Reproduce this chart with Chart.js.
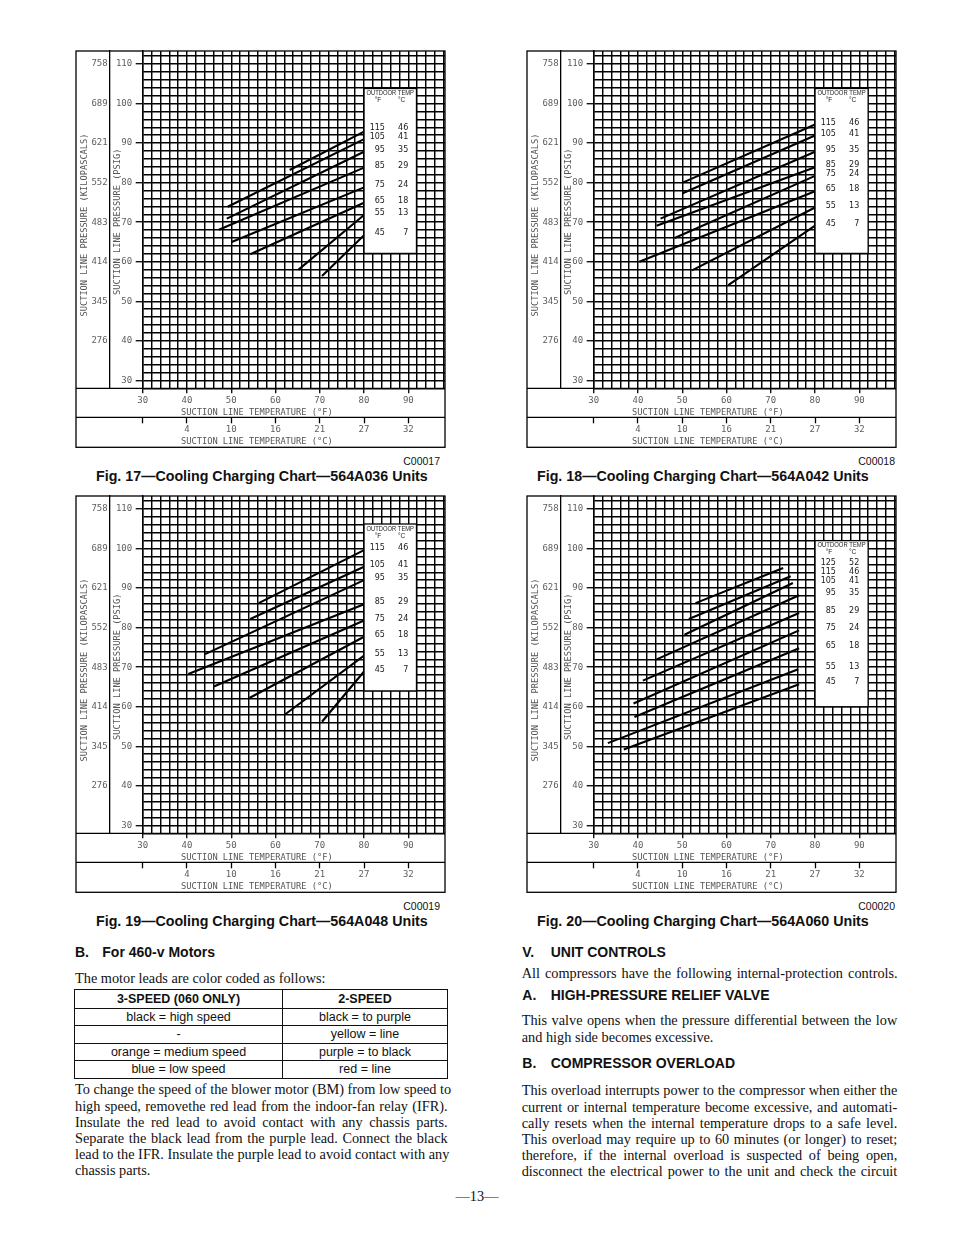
<!DOCTYPE html>
<html><head><meta charset="utf-8">
<script src="https://cdn.jsdelivr.net/npm/chart.js@4.4.0/dist/chart.umd.min.js"></script>
<style>
html,body{margin:0;padding:0;background:#fff}
body{width:954px;height:1235px;position:relative;overflow:hidden;color:#111;font-family:"Liberation Sans",Arial,sans-serif}
canvas.cv{position:absolute}
.t{position:absolute;white-space:nowrap;line-height:1}
.b{font-weight:bold}
.sans{font-family:"Liberation Sans",Arial,sans-serif}
.serif{font-family:"Liberation Serif","Times New Roman",serif;font-size:14.3px}
.just{position:absolute;white-space:nowrap;line-height:1;text-align:justify;text-align-last:justify}
.hl{position:absolute;background:#111}
.cap{font-size:14.25px}
</style>
</head>
<body>
<canvas id="c17" class="cv" width="371" height="399" style="left:75px;top:50px;width:371px;height:399px"></canvas>
<canvas id="c18" class="cv" width="371" height="399" style="left:526px;top:50px;width:371px;height:399px"></canvas>
<canvas id="c19" class="cv" width="371" height="399" style="left:75px;top:495px;width:371px;height:399px"></canvas>
<canvas id="c20" class="cv" width="371" height="399" style="left:526px;top:495px;width:371px;height:399px"></canvas>

<!-- figure codes and captions -->
<div class="t sans" style="font-size:10.5px;right:514px;top:455.8px">C00017</div>
<div class="t sans b cap" style="left:96px;top:469px">Fig. 17—Cooling Charging Chart—564A036 Units</div>
<div class="t sans" style="font-size:10.5px;right:59px;top:455.8px">C00018</div>
<div class="t sans b cap" style="left:537px;top:469px">Fig. 18—Cooling Charging Chart—564A042 Units</div>
<div class="t sans" style="font-size:10.5px;right:514px;top:900.8px">C00019</div>
<div class="t sans b cap" style="left:96px;top:914px">Fig. 19—Cooling Charging Chart—564A048 Units</div>
<div class="t sans" style="font-size:10.5px;right:59px;top:900.8px">C00020</div>
<div class="t sans b cap" style="left:537px;top:914px">Fig. 20—Cooling Charging Chart—564A060 Units</div>

<!-- left column text -->
<div class="t sans b" style="font-size:14px;left:75px;top:944.8px">B.</div>
<div class="t sans b" style="font-size:14px;left:102.3px;top:944.8px">For 460-v Motors</div>
<div class="t serif" style="left:75px;top:971px">The motor leads are color coded as follows:</div>

<div style="position:absolute;left:74.2px;top:989.2px;width:371.8px;height:87.4px;border:1.6px solid #111"></div>
<div class="hl" style="left:75px;top:1007.8px;width:372.7px;height:1px"></div>
<div class="hl" style="left:75px;top:1025.2px;width:372.7px;height:1px"></div>
<div class="hl" style="left:75px;top:1042.8px;width:372.7px;height:1px"></div>
<div class="hl" style="left:75px;top:1060.2px;width:372.7px;height:1px"></div>
<div class="hl" style="left:281.8px;top:990px;width:1px;height:88.3px"></div>
<div class="t sans b" style="font-size:12.5px;left:75px;width:207px;text-align:center;top:993.2px">3-SPEED (060 ONLY)</div>
<div class="t sans b" style="font-size:12.5px;left:282.3px;width:165.4px;text-align:center;top:993.2px">2-SPEED</div>
<div class="t sans" style="font-size:12.5px;left:75px;width:207px;text-align:center;top:1011.2px">black = high speed</div>
<div class="t sans" style="font-size:12.5px;left:282.3px;width:165.4px;text-align:center;top:1011.2px">black = to purple</div>
<div class="t sans" style="font-size:12.5px;left:75px;width:207px;text-align:center;top:1028.2px">-</div>
<div class="t sans" style="font-size:12.5px;left:282.3px;width:165.4px;text-align:center;top:1028.2px">yellow = line</div>
<div class="t sans" style="font-size:12.5px;left:75px;width:207px;text-align:center;top:1045.6px">orange = medium speed</div>
<div class="t sans" style="font-size:12.5px;left:282.3px;width:165.4px;text-align:center;top:1045.6px">purple = to black</div>
<div class="t sans" style="font-size:12.5px;left:75px;width:207px;text-align:center;top:1062.9px">blue = low speed</div>
<div class="t sans" style="font-size:12.5px;left:282.3px;width:165.4px;text-align:center;top:1062.9px">red = line</div>

<div class="just serif" style="left:75px;width:372.7px;top:1081.8px">To change the speed of the blower motor (BM) from low speed to</div>
<div class="just serif" style="left:75px;width:372.7px;top:1098.5px">high speed, removethe red lead from the indoor-fan relay (IFR).</div>
<div class="just serif" style="left:75px;width:372.7px;top:1115.1px">Insulate the red lead to avoid contact with any chassis parts.</div>
<div class="just serif" style="left:75px;width:372.7px;top:1130.8px">Separate the black lead from the purple lead. Connect the black</div>
<div class="just serif" style="left:75px;width:372.7px;top:1146.8px">lead to the IFR. Insulate the purple lead to avoid contact with any</div>
<div class="t serif" style="left:75px;top:1162.8px">chassis parts.</div>

<div class="t serif" style="left:427px;width:100px;text-align:center;top:1188.8px">—13—</div>

<!-- right column text -->
<div class="t sans b" style="font-size:14px;left:522.3px;top:944.8px">V.</div>
<div class="t sans b" style="font-size:14px;left:550.7px;top:944.8px">UNIT CONTROLS</div>
<div class="just serif" style="left:521.7px;width:376px;top:966.1px">All compressors have the following internal-protection controls.</div>
<div class="t sans b" style="font-size:14px;left:522.3px;top:988.1px">A.</div>
<div class="t sans b" style="font-size:14px;left:550.7px;top:988.1px">HIGH-PRESSURE RELIEF VALVE</div>
<div class="just serif" style="left:521.7px;width:375.6px;top:1012.8px">This valve opens when the pressure differential between the low</div>
<div class="t serif" style="left:521.7px;top:1030.1px">and high side becomes excessive.</div>
<div class="t sans b" style="font-size:14px;left:522.3px;top:1056.4px">B.</div>
<div class="t sans b" style="font-size:14px;left:550.7px;top:1056.4px">COMPRESSOR OVERLOAD</div>
<div class="just serif" style="left:521.7px;width:375.6px;top:1082.8px">This overload interrupts power to the compressor when either the</div>
<div class="just serif" style="left:521.7px;width:375.6px;top:1099.5px">current or internal temperature become excessive, and automati-</div>
<div class="just serif" style="left:521.7px;width:375.6px;top:1115.5px">cally resets when the internal temperature drops to a safe level.</div>
<div class="just serif" style="left:521.7px;width:375.6px;top:1131.8px">This overload may require up to 60 minutes (or longer) to reset;</div>
<div class="just serif" style="left:521.7px;width:375.6px;top:1147.8px">therefore, if the internal overload is suspected of being open,</div>
<div class="just serif" style="left:521.7px;width:375.6px;top:1163.5px">disconnect the electrical power to the unit and check the circuit</div>

<script>
// ---------------- DATA ----------------
// Outdoor temperature curve labels
const OUTDOOR_F_8 = [115, 105, 95, 85, 75, 65, 55, 45];
const OUTDOOR_C_8 = [46, 41, 35, 29, 24, 18, 13, 7];
const OUTDOOR_F_9 = [125, 115, 105, 95, 85, 75, 65, 55, 45];
const OUTDOOR_C_9 = [52, 46, 41, 35, 29, 24, 18, 13, 7];

// Axis tick labels
const PSIG_TICKS = [30, 40, 50, 60, 70, 80, 90, 100, 110];
const KPA_AT_PSIG = [30, 40, 50, 60, 70, 80, 90, 100, 110];
const KPA_LABELS = ['', '276', '345', '414', '483', '552', '621', '689', '758'];
const DEGF_TICKS = [30, 40, 50, 60, 70, 80, 90];
const DEGC_LABELS = ['', '4', '10', '16', '21', '27', '32'];

// Fig. 17 — 564A036 (suction temp °F, suction pressure psig)
const FIG17_START_F    = [63.2, 49.2, 49.0, 47.2, 50.1, 54.3, 65.2, 70.5];
const FIG17_START_PSIG = [83.2, 73.9, 70.9, 68.1, 65.0, 61.9, 58.0, 56.4];
const FIG17_END_F      = [80, 80, 80, 80, 80, 80, 80, 80];
const FIG17_END_PSIG   = [92.9, 91.0, 87.8, 83.8, 78.8, 74.9, 71.8, 66.7];

// Fig. 18 — 564A042
const FIG18_START_F    = [50.1, 50.1, 45.1, 44.2, 48.3, 40.3, 52.2, 60.4];
const FIG18_START_PSIG = [80.0, 77.3, 70.9, 69.1, 66.0, 60.0, 57.8, 54.1];
const FIG18_END_F      = [80, 80, 80, 80, 80, 80, 80, 80];
const FIG18_END_PSIG   = [94.7, 91.9, 87.8, 83.9, 81.7, 77.8, 73.7, 69.1];

// Fig. 19 — 564A048
const FIG19_START_F    = [56.2, 54.3, 44.1, 40.3, 46.1, 54.1, 62.2, 70.5];
const FIG19_START_PSIG = [86.2, 82.2, 73.3, 68.3, 65.1, 62.2, 58.1, 56.2];
const FIG19_END_F      = [80, 80, 80, 80, 80, 80, 80, 80];
const FIG19_END_PSIG   = [99.6, 95.4, 92.0, 85.9, 81.8, 77.7, 72.9, 68.9];

// Fig. 20 — 564A060
const FIG20_START_F    = [53.0, 51.5, 50.5, 44.1, 41.1, 39.0, 39.2, 33.2, 36.8];
const FIG20_START_PSIG = [86.2, 82.2, 78.2, 71.9, 66.6, 60.8, 57.4, 50.8, 49.2];
const FIG20_END_F      = [72.8, 74.5, 75.0, 76.4, 76.4, 76.4, 76.4, 76.2, 76.4];
const FIG20_END_PSIG   = [95.1, 93.0, 91.3, 88.2, 83.7, 79.3, 74.8, 69.5, 65.7];

// ---------------- RENDERING ----------------
const INK = '#000';
const TICK_COLOR = '#5e5e5e';
const TICK_FONT = {family: '"DejaVu Sans Mono", monospace', size: 9};
const TITLE_FONT = '8.7px "DejaVu Sans Mono", monospace';
const GRID_W = 1.45;
const X_MIN = 30, X_MAX = 98.29, Y_MIN = 28, Y_MAX = 113.28;
const LABEL_MIN_GAP = 9;

function mapLabel(keys, labels) {
  return v => { const i = keys.indexOf(v); return i >= 0 ? labels[i] : ''; };
}
const tenOnly = c => (c.tick && c.tick.value % 10 === 0) ? INK : 'rgba(0,0,0,0)';

function framePlugin(fig) {
  return {
    id: 'frame' + fig.id,
    afterDatasetsDraw(chart) {
      const ctx = chart.ctx, ca = chart.chartArea;
      const sx = chart.scales.x, sy = chart.scales.y, sx2 = chart.scales.x2, sy2 = chart.scales.y2;
      ctx.save();
      // legend box
      const b = fig.box;
      const bx0 = sx.getPixelForValue(b.x0), bx1 = sx.getPixelForValue(b.x1);
      const by0 = sy.getPixelForValue(b.top), by1 = sy.getPixelForValue(b.bottom);
      ctx.fillStyle = '#fff';
      ctx.fillRect(bx0, by0, bx1 - bx0, by1 - by0);
      ctx.strokeStyle = INK; ctx.lineWidth = 1.3;
      ctx.strokeRect(bx0, by0, bx1 - bx0, by1 - by0);
      ctx.fillStyle = '#222';
      ctx.textBaseline = 'middle';
      ctx.font = '7.2px "Liberation Sans", Arial, sans-serif';
      ctx.textAlign = 'center';
      ctx.fillText('OUTDOOR TEMP', (bx0 + bx1) / 2, by0 + 4.6, bx1 - bx0 - 5);
      ctx.font = '6.5px "Liberation Sans", Arial, sans-serif';
      ctx.fillText('°F', bx0 + 14, by0 + 11.8);
      ctx.fillText('°C', bx0 + 37.5, by0 + 11.8);
      ctx.font = '8px "DejaVu Sans", sans-serif';
      ctx.fillStyle = '#1a1a1a';
      ctx.textAlign = 'right';
      // label rows sit beside each line's right end; keep them from overlapping
      const ys = fig.endP.map(p => sy.getPixelForValue(p) - 2);
      for (let i = ys.length - 2; i >= 0; i--) ys[i] = Math.min(ys[i], ys[i + 1] - LABEL_MIN_GAP);
      fig.outF.forEach((f, i) => {
        ctx.fillText(String(f), bx0 + 20.9, ys[i]);
        ctx.fillText(String(fig.outC[i]), bx0 + 44.2, ys[i]);
      });
      // frame
      const L = sy2.left, R = ca.right, T = ca.top, B = sx2.bottom;
      ctx.strokeStyle = INK; ctx.lineWidth = 1.3;
      ctx.strokeRect(L, T, R - L, B - T);
      ctx.beginPath();
      ctx.moveTo(L, sx.top); ctx.lineTo(R, sx.top);
      ctx.moveTo(L, sx2.top); ctx.lineTo(R, sx2.top);
      ctx.stroke();
      // axis titles
      ctx.fillStyle = '#555';
      ctx.font = TITLE_FONT;
      ctx.textAlign = 'left';
      ctx.fillText('SUCTION LINE TEMPERATURE (°F)', ca.left + 38.3, sx.top + 24.4);
      ctx.fillText('SUCTION LINE TEMPERATURE (°C)', ca.left + 38.3, sx2.top + 24.4);
      ctx.textAlign = 'center';
      ctx.save();
      ctx.translate(sy2.left + 9, ca.top + 174);
      ctx.rotate(-Math.PI / 2);
      ctx.fillText('SUCTION LINE PRESSURE (KILOPASCALS)', 0, 0);
      ctx.restore();
      ctx.save();
      ctx.translate(sy.left + 8.4, ca.top + 170.7);
      ctx.rotate(-Math.PI / 2);
      ctx.fillText('SUCTION LINE PRESSURE (PSIG)', 0, 0);
      ctx.restore();
      ctx.restore();
    }
  };
}

function buildChart(fig) {
  const datasets = fig.startF.map((sf, i) => ({
    label: fig.outF[i] + '°F',
    data: [{x: sf, y: fig.startP[i]}, {x: fig.endF[i], y: fig.endP[i]}],
    showLine: true, borderColor: INK, borderWidth: 2.1,
    pointRadius: 0, pointHoverRadius: 0, fill: false, tension: 0
  }));
  new Chart(document.getElementById(fig.id), {
    type: 'scatter',
    data: {datasets},
    options: {
      responsive: false, animation: false, devicePixelRatio: 1,
      events: [],
      layout: {padding: {left: 1, top: 1, right: 1, bottom: 1.7}},
      plugins: {legend: {display: false}, tooltip: {enabled: false}},
      scales: {
        x: {
          type: 'linear', position: 'bottom', weight: 0, min: X_MIN, max: X_MAX,
          afterFit: s => { s.height = 29; s.paddingLeft = 0; s.paddingRight = 0; },
          border: {display: false},
          grid: {color: INK, lineWidth: GRID_W, tickLength: 5, tickWidth: 1.3, tickColor: tenOnly},
          ticks: {stepSize: 2, includeBounds: false, autoSkip: false, maxRotation: 0, minRotation: 0,
                  padding: 1.5, color: TICK_COLOR, font: TICK_FONT,
                  callback: v => (v % 10 === 0 && DEGF_TICKS.includes(v)) ? String(v) : ''}
        },
        x2: {
          type: 'linear', position: 'bottom', weight: 1, min: X_MIN, max: X_MAX,
          afterFit: s => { s.height = 30; s.paddingLeft = 0; s.paddingRight = 0; },
          border: {display: false},
          grid: {display: true, drawOnChartArea: false, color: INK, tickLength: 6, tickWidth: 1.3},
          ticks: {stepSize: 10, includeBounds: false, autoSkip: false, maxRotation: 0, minRotation: 0,
                  padding: 1, color: TICK_COLOR, font: TICK_FONT,
                  callback: mapLabel(DEGF_TICKS, DEGC_LABELS)}
        },
        y: {
          type: 'linear', position: 'left', weight: 0, min: Y_MIN, max: Y_MAX,
          afterFit: s => { s.width = 33.4; s.paddingTop = 0; s.paddingBottom = 0; },
          border: {display: true, color: INK, width: GRID_W},
          grid: {color: INK, lineWidth: GRID_W, tickLength: 7, tickWidth: 1.3, tickColor: tenOnly},
          ticks: {stepSize: 2, includeBounds: false, autoSkip: false, padding: 3.5,
                  color: TICK_COLOR, font: TICK_FONT,
                  callback: v => PSIG_TICKS.includes(v) ? String(v) : ''}
        },
        y2: {
          type: 'linear', position: 'left', weight: 1, min: Y_MIN, max: Y_MAX,
          afterFit: s => { s.width = 33.3; s.paddingTop = 0; s.paddingBottom = 0; },
          border: {display: true, color: INK, width: 1.3},
          grid: {display: true, drawOnChartArea: false, drawTicks: false},
          ticks: {stepSize: 10, includeBounds: false, autoSkip: false, padding: 1.6,
                  color: TICK_COLOR, font: TICK_FONT,
                  callback: mapLabel(KPA_AT_PSIG, KPA_LABELS)}
        }
      }
    },
    plugins: [framePlugin(fig)]
  });
}

buildChart({id: 'c17', startF: FIG17_START_F, startP: FIG17_START_PSIG, endF: FIG17_END_F, endP: FIG17_END_PSIG,
            outF: OUTDOOR_F_8, outC: OUTDOOR_C_8, box: {x0: 80, x1: 91.85, top: 103.8, bottom: 62.1}});
buildChart({id: 'c18', startF: FIG18_START_F, startP: FIG18_START_PSIG, endF: FIG18_END_F, endP: FIG18_END_PSIG,
            outF: OUTDOOR_F_8, outC: OUTDOOR_C_8, box: {x0: 80, x1: 92.0, top: 103.8, bottom: 62.1}});
buildChart({id: 'c19', startF: FIG19_START_F, startP: FIG19_START_PSIG, endF: FIG19_END_F, endP: FIG19_END_PSIG,
            outF: OUTDOOR_F_8, outC: OUTDOOR_C_8, box: {x0: 80, x1: 91.85, top: 106.2, bottom: 64.0}});
buildChart({id: 'c20', startF: FIG20_START_F, startP: FIG20_START_PSIG, endF: FIG20_END_F, endP: FIG20_END_PSIG,
            outF: OUTDOOR_F_9, outC: OUTDOOR_C_9, box: {x0: 80, x1: 92.0, top: 102.0, bottom: 60.0}});
</script>
</body></html>
